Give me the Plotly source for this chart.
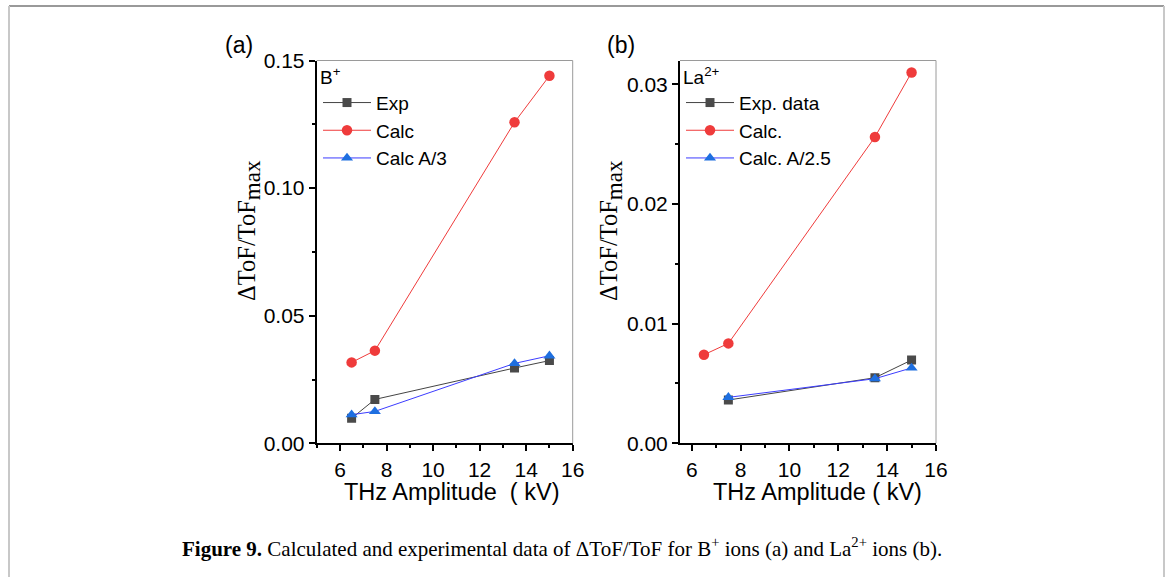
import plotly.graph_objects as go

# ---- data ----
x_a = [6.5, 7.5, 13.5, 15]
exp_a = [0.0098, 0.0172, 0.0295, 0.0324]
calc_a = [0.0317, 0.0363, 0.1258, 0.1440]
calc3_a = [0.0112, 0.0125, 0.0313, 0.0343]

x_b_exp = [7.5, 13.5, 15]
exp_b = [0.00362, 0.00548, 0.00696]
x_b_calc = [6.5, 7.5, 13.5, 15]
calc_b = [0.0074, 0.00835, 0.0256, 0.0310]
x_b_calc25 = [7.5, 13.5, 15]
calc25_b = [0.00384, 0.0054, 0.0063]

names_a = ["Exp", "Calc", "Calc A/3"]
names_b = ["Exp. data", "Calc.", "Calc. A/2.5"]

W, H = 1168, 577
GRAY, RED, BLUE, BLUEL = "#4a4a4a", "#ef3b3b", "#1e6fe0", "#3c3cff"
SANS = "Liberation Sans, Arial, sans-serif"
SERIF = "Liberation Serif, Times New Roman, serif"

def px(x):
    return x / W

def py(y):
    return 1 - y / H

fig = go.Figure()

SIZES = {"square": 9, "circle": 10.5, "triangle-up": 10.5}

def add(x, y, name, lc, mc, sym, xa, ya, leg):
    fig.add_trace(go.Scatter(
        x=x, y=y, name=name, mode="lines+markers", xaxis=xa, yaxis=ya, legend=leg,
        line=dict(color=lc, width=1),
        marker=dict(symbol=sym, color=mc, size=SIZES[sym]),
    ))

add(x_a, exp_a, names_a[0], "#444444", GRAY, "square", "x", "y", "legend")
add(x_a, calc_a, names_a[1], RED, RED, "circle", "x", "y", "legend")
add(x_a, calc3_a, names_a[2], BLUEL, BLUE, "triangle-up", "x", "y", "legend")
add(x_b_exp, exp_b, names_b[0], "#444444", GRAY, "square", "x2", "y2", "legend2")
add(x_b_calc, calc_b, names_b[1], RED, RED, "circle", "x2", "y2", "legend2")
add(x_b_calc25, calc25_b, names_b[2], BLUEL, BLUE, "triangle-up", "x2", "y2", "legend2")

axis_common = dict(
    showgrid=False, zeroline=False, showline=True, linecolor="black", linewidth=2,
    ticks="outside", ticklen=6, tickwidth=2, tickcolor="black", automargin=False,
    tickfont=dict(family=SANS, size=21, color="black"),
)
minor_common = dict(ticks="outside", ticklen=3, tickwidth=2, tickcolor="black")

top, bottom = 60.5, 443.3
leg_font = dict(family=SANS, size=19, color="black")
fig.update_layout(
    width=W, height=H, margin=dict(l=0, r=0, t=0, b=0, autoexpand=False), autosize=False,
    paper_bgcolor="white", plot_bgcolor="white",
    xaxis=dict(domain=[px(316.7), px(572.7)], range=[5, 16], tickvals=[6, 8, 10, 12, 14, 16],
               minor=dict(tickvals=[5, 7, 9, 11, 13, 15], **minor_common),
               anchor="y", **axis_common),
    yaxis=dict(domain=[py(bottom), py(top)], range=[0, 0.15], tickvals=[0, 0.05, 0.10, 0.15],
               tickformat=".2f", minor=dict(tickvals=[0.025, 0.075, 0.125], **minor_common),
               anchor="x", **axis_common),
    xaxis2=dict(domain=[px(680), px(936)], range=[5.52, 16], tickvals=[6, 8, 10, 12, 14, 16],
                minor=dict(tickvals=[7, 9, 11, 13, 15], **minor_common),
                anchor="y2", **axis_common),
    yaxis2=dict(domain=[py(bottom), py(top)], range=[0, 0.032], tickvals=[0, 0.01, 0.02, 0.03],
                tickformat=".2f", minor=dict(tickvals=[0.005, 0.015, 0.025], **minor_common),
                anchor="x2", **axis_common),
    legend=dict(x=px(318), y=py(59), xanchor="left", yanchor="top", bgcolor="rgba(0,0,0,0)",
                font=leg_font, tracegroupgap=0,
                title=dict(text="B<sup>+</sup>", font=leg_font), itemwidth=48),
    legend2=dict(x=px(681), y=py(59), xanchor="left", yanchor="top", bgcolor="rgba(0,0,0,0)",
                 font=leg_font, tracegroupgap=0,
                 title=dict(text="La<sup>2+</sup>", font=leg_font), itemwidth=48),
    showlegend=True,
)

shapes = []
for xr, yr in [("x domain", "y domain"), ("x2 domain", "y2 domain")]:
    shapes.append(dict(type="line", xref=xr, yref=yr, x0=1, x1=1, y0=0, y1=1, line=dict(color="#9a9a9a", width=1)))
    shapes.append(dict(type="line", xref=xr, yref=yr, x0=0, x1=1, y0=1, y1=1, line=dict(color="#9a9a9a", width=1)))
# figure border
shapes.append(dict(type="line", xref="paper", yref="paper", x0=px(9), x1=px(1164), y0=py(6), y1=py(6), line=dict(color="#999999", width=2)))
shapes.append(dict(type="line", xref="paper", yref="paper", x0=px(9), x1=px(9), y0=py(6), y1=0, line=dict(color="#c8c8c8", width=2)))
shapes.append(dict(type="line", xref="paper", yref="paper", x0=px(1164), x1=px(1164), y0=py(6), y1=0, line=dict(color="#c8c8c8", width=2)))
fig.update_layout(shapes=shapes)

def note(text, x, y, size, family=SANS, angle=0):
    return dict(text=text, x=px(x), y=py(y), xref="paper", yref="paper", showarrow=False,
                xanchor="center", yanchor="middle", textangle=angle,
                font=dict(family=family, size=size, color="black"))

ann = [
    note("(a)", 239, 45, 23),
    note("(b)", 621, 45, 23),
    note("ΔToF/ToF<sub><span style='font-size:23px'>max</span></sub>", 249, 231, 24.5, SERIF, -90),
    note("ΔToF/ToF<sub><span style='font-size:23px'>max</span></sub>", 611, 231, 24.5, SERIF, -90),
    note("THz Amplitude\u00a0 ( kV)", 451, 492, 23.5),
    note("THz Amplitude ( kV)", 817, 492, 23.5),
    note("<b>Figure 9.</b> Calculated and experimental data of ΔToF/ToF for B<sup>+</sup> ions (a) and La<sup>2+</sup> ions (b).",
         562, 547, 21, SERIF),
]
fig.update_layout(annotations=ann)

fig.write_html("out.html")
